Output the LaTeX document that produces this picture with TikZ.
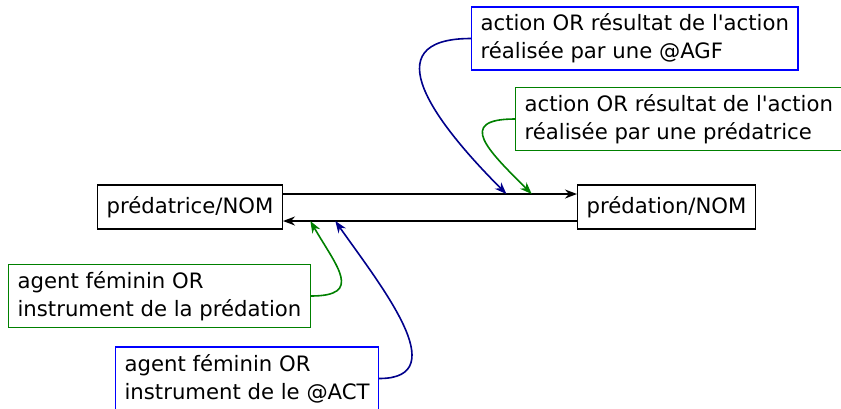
\documentclass[tikz,border=0pt]{standalone}
\usepackage{fontspec}
\setmainfont{DejaVu Sans}
\usetikzlibrary{arrows.meta}
\definecolor{navyblue}{RGB}{0,0,139}
\definecolor{boxblue}{RGB}{0,0,255}
\definecolor{darkgreen}{RGB}{0,128,0}
\newcommand{\apos}{\textquotesingle}
\tikzset{
  lexbox/.style={draw, line width=0.6pt, anchor=west, inner xsep=4.5pt, align=left,
    font=\fontsize{10.6}{14}\selectfont},
  wordbox/.style={lexbox, minimum height=22pt},
  glossbox/.style={lexbox, minimum height=31.5pt},
  link/.style={->, line width=0.8pt},
}
\begin{document}
\begin{tikzpicture}[x=0.5pt, y=0.5pt, >={Stealth[length=6pt,width=4.5pt]}]
  \useasboundingbox (0,0) rectangle (841,-408);
  \node[wordbox] (predatrice) at (97,-207) {prédatrice/NOM};
  \node[wordbox] (predation) at (577,-207) {prédation/NOM};
  \node[glossbox, boxblue] (actAGF) at (471,-38.5) {\color{black}action OR résultat de l\apos action\\\color{black}réalisée par une @AGF};
  \node[glossbox, darkgreen] (actPred) at (515,-119) {\color{black}action OR résultat de l\apos action\\\color{black}réalisée par une prédatrice};
  \node[glossbox, darkgreen] (agtPred) at (8,-296) {\color{black}agent féminin OR\\\color{black}instrument de la prédation};
  \node[glossbox, boxblue] (agtACT) at (115,-378.5) {\color{black}agent féminin OR\\\color{black}instrument de le @ACT};
  % the two derivations
  \draw[link] ([yshift=6.5pt]predatrice.east) -- coordinate[pos=0.76] (hitA) coordinate[pos=0.846] (hitB) ([yshift=6.5pt]predation.west);
  \draw[link] ([yshift=-7pt]predation.west) -- coordinate[pos=0.822] (hitC) coordinate[pos=0.907] (hitD) ([yshift=-7pt]predatrice.east);
  % glosses
  \draw[link, navyblue] (actAGF.west) to[out=180, in=135, looseness=1.6] (hitA);
  \draw[link, darkgreen] (actPred.west) to[out=180, in=135, looseness=2] (hitB);
  \draw[link, darkgreen] (agtPred.east) to[out=0, in=-60, looseness=1.8] (hitD);
  \draw[link, navyblue] (agtACT.east) to[out=0, in=-55, looseness=1.2] (hitC);
\end{tikzpicture}
\end{document}
